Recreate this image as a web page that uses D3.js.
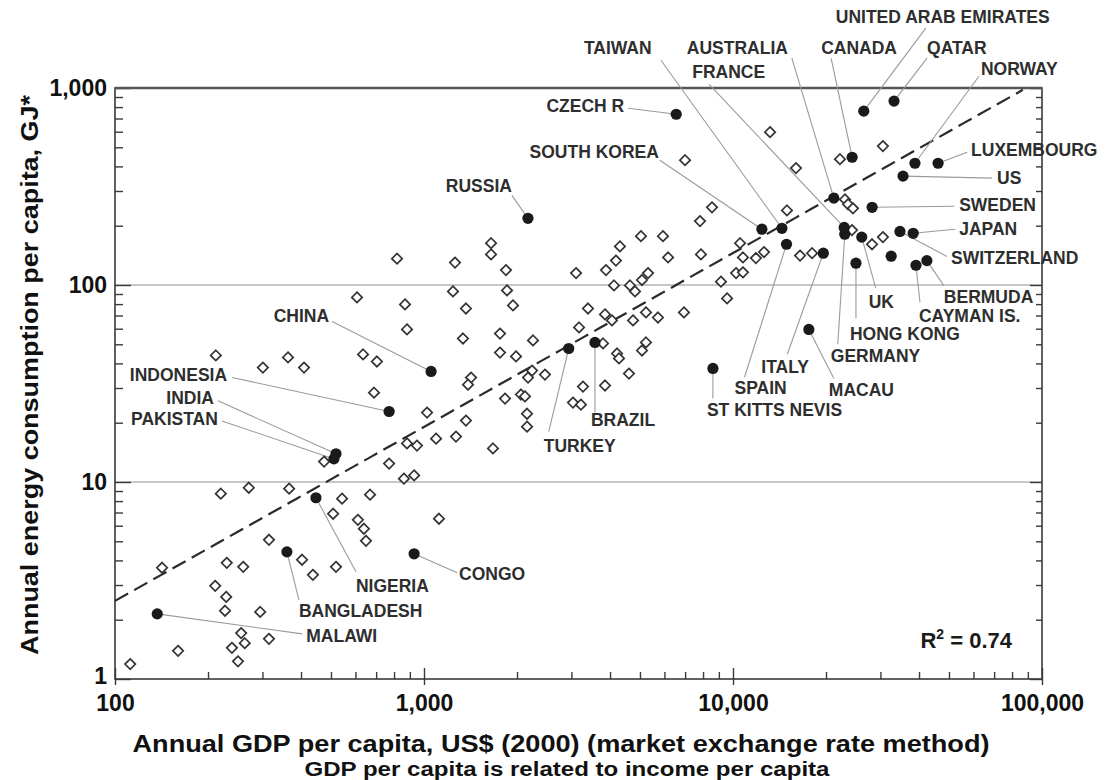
<!DOCTYPE html>
<html>
<head>
<meta charset="utf-8">
<script src="https://cdn.jsdelivr.net/npm/d3@7"></script>
<style>
  html, body { margin: 0; padding: 0; background: #fff; }
  svg { display: block; }
  text { font-family: "Liberation Sans", Arial, Helvetica, sans-serif; font-weight: bold; }
</style>
</head>
<body>
<svg id="chart" width="1116" height="780"></svg>
<script>
// ---------------- DATA ----------------
// Labeled (filled) countries: GDP per capita (US$ 2000) and energy (GJ per capita)
const filledNames = ["UNITED ARAB EMIRATES","QATAR","CANADA","NORWAY","LUXEMBOURG","US","SWEDEN","JAPAN","SWITZERLAND","BERMUDA","CAYMAN IS.","UK","HONG KONG","GERMANY","ITALY","SPAIN","ST KITTS NEVIS","MACAU","CZECH R","TAIWAN","AUSTRALIA","FRANCE","SOUTH KOREA","RUSSIA","CHINA","INDONESIA","INDIA","PAKISTAN","NIGERIA","BANGLADESH","MALAWI","CONGO","TURKEY","BRAZIL",""];
const filledGdp    = [26500,33200,24300,38800,46100,35500,28200,38300,34700,42400,39100,26100,25000,23000,19600,14900,8610,17600,6550,14400,21200,22900,12400,2170,1054,771,519,511,447,360,137,929,2940,3575,32500];
const filledEnergy = [763,858,445,415,415,357,248,183,187,133,126,175,129,181,145,161,37.7,59.5,736,194,276,196,192,218,36.4,22.8,13.9,13.1,8.32,4.42,2.14,4.32,47.6,51.1,140];

// Other (open diamond) countries
const openGdp = [607,212,301,363,409,635,475,220,271,366,543,508,611,639,649,315,142,230,260,403,437,519,211,229,227,295,256,263,239,250,315,160,112,669,1118,1023,1094,949,881,771,929,861,689,
  1648,1648,818,1260,1842,3105,3881,1241,1856,868,1367,1941,881,1337,1762,2253,1762,1985,3394,3853,3175,3796,704,1420,1388,2237,2171,2463,1829,2060,2122,3270,3853,3035,3220,1367,2155,2155,1269,1672,
  13180,6995,15990,8551,7820,14950,5036,5934,4306,4180,6165,7875,10540,10770,11860,12600,10230,10770,9141,9570,4120,4640,4818,5076,5309,4057,4748,5228,5717,6939,5228,5076,4215,4276,4606,
  30560,22190,23030,23570,24450,24270,28180,30560,16480,18030];
const openEnergy = [86.5,43.9,38.1,42.9,38.1,44.4,12.7,8.72,9.35,9.25,8.23,6.90,6.43,5.79,5.03,5.09,3.67,3.89,3.71,4.03,3.38,3.71,2.97,2.61,2.22,2.19,1.71,1.52,1.44,1.23,1.60,1.39,1.19,8.62,6.51,22.5,16.6,15.3,15.7,12.4,10.8,10.4,28.4,
  163,143,136,130,119,115,119,92.8,93.9,79.7,76.0,78.8,59.5,53.5,56.7,52.3,45.4,43.4,76.0,70.9,60.9,50.5,40.9,33.9,31.2,36.8,33.9,35.1,26.5,27.8,27.2,30.5,30.9,25.3,24.7,20.5,22.2,19.1,17.0,14.8,
  597,430,392,248,211,239,177,177,157,133,138,143,163,138,137,147,115,116,104,85.5,99.5,99.5,92.8,106,115,66.1,66.1,72.6,68.4,72.6,51.1,46.5,44.9,42.4,35.5,
  507,435,272,257,245,190,161,175,141,145];

// Axis tick labels
const xTickLabels = [100, 1000, 10000, 100000];
const yTickLabels = [1, 10, 100, 1000];
const gridValues = [10, 100];

// Power-law fit  E = a * GDP^b
const fitCoef = 0.0427;
const fitExp = 0.883;
const fitGdpRange = [100, 86700];
const rSquared = "0.74";

// ---------------- LAYOUT (label placement, px offsets from the point) ----------------
// name, anchor, text dx, text dy (baseline), leader end dx, leader end dy
const labelLayout = [
  ["UNITED ARAB EMIRATES","start",-28,-88,62,-83],
  ["QATAR","start",33,-47,33,-43],
  ["CANADA","start",-31,-103,-21,-99],
  ["NORWAY","start",66,-88,64,-87],
  ["LUXEMBOURG","start",33,-7,29,-11],
  ["US","start",94,8,89,2],
  ["SWEDEN","start",87,4,82,-1],
  ["JAPAN","start",46,2,42,-4],
  ["SWITZERLAND","start",51,33,47,25],
  ["BERMUDA","start",17,42,17,25],
  ["CAYMAN IS.","start",3,57,4,37],
  ["UK","start",7,71,14,51],
  ["HONG KONG","start",-6,77,0,55],
  ["GERMANY","start",-14,128,-7,110],
  ["ITALY","start",-62,120,-36,101],
  ["SPAIN","start",-52,150,-42,133],
  ["ST KITTS NEVIS","start",-6,48,0,30],
  ["MACAU","start",20,67,25,49],
  ["CZECH R","end",-52,-2,-48,-6],
  ["TAIWAN","start",-198,-174,-121,-168],
  ["AUSTRALIA","start",-147,-144,-42,-140],
  ["FRANCE","start",-152,-149,-135,-143],
  ["SOUTH KOREA","end",-103,-71,-102,-69],
  ["RUSSIA","end",-16,-26,-16,-23],
  ["CHINA","end",-102,-49,-99,-50],
  ["INDONESIA","end",-162,-30,-157,-34],
  ["INDIA","end",-122,-50,-118,-53],
  ["PAKISTAN","end",-116,-34,-112,-38],
  ["NIGERIA","start",40,94,40,74],
  ["BANGLADESH","start",12,65,12,48],
  ["MALAWI","start",149,28,145,20],
  ["CONGO","start",45,26,43,19],
  ["TURKEY","start",-25,103,-20,83],
  ["BRAZIL","start",-4,84,0,70]
];

// ---------------- DRAW ----------------
const svg = d3.select("#chart");
const L = 115, R = 1042, T = 88, B = 679;
const x = d3.scaleLog().domain([100, 100000]).range([L, R]);
const y = d3.scaleLog().domain([1, 1000]).range([B, T]);

svg.append("rect").attr("width", 1116).attr("height", 780).attr("fill", "#fff");

// grid lines
svg.append("g").selectAll("line").data(gridValues).join("line")
  .attr("x1", L).attr("x2", R)
  .attr("y1", d => y(d)).attr("y2", d => y(d))
  .attr("stroke", "#b4b4b4").attr("stroke-width", 1.3);

// minor / major tick values
const minorY = [], minorX = [];
for (let e = 0; e < 3; e++) for (let m = 2; m <= 9; m++) minorY.push(m * Math.pow(10, e));
for (let e = 2; e < 5; e++) for (let m = 2; m <= 9; m++) minorX.push(m * Math.pow(10, e));

function tickAxis(axis, vals, size, tx, ty) {
  const g = svg.append("g").attr("transform", `translate(${tx},${ty})`)
    .call(axis.tickValues(vals).tickSize(size).tickFormat(""));
  g.select(".domain").remove();
  g.selectAll(".tick line").attr("stroke", "#3a3a3a").attr("stroke-width", 1.4);
  return g;
}
tickAxis(d3.axisLeft(y), minorY, -8, L, 0);
tickAxis(d3.axisLeft(y), yTickLabels, -16, L, 0);
tickAxis(d3.axisRight(y), minorY, -6, R, 0);
tickAxis(d3.axisRight(y), yTickLabels, -12, R, 0);
tickAxis(d3.axisBottom(x), minorX, -7, 0, B);
tickAxis(d3.axisBottom(x), xTickLabels, -11, 0, B);
tickAxis(d3.axisBottom(x), xTickLabels, 6, 0, B);

// frame
svg.append("rect").attr("x", L).attr("y", T).attr("width", R - L).attr("height", B - T)
  .attr("fill", "none").attr("stroke", "#3a3a3a").attr("stroke-width", 1.6);
svg.append("line").attr("x1", L).attr("x2", R).attr("y1", T).attr("y2", T)
  .attr("stroke", "#555").attr("stroke-width", 2.6);

// tick labels
const yl = svg.append("g").attr("transform", `translate(${L},0)`)
  .call(d3.axisLeft(y).tickValues(yTickLabels).tickSize(0).tickPadding(8).tickFormat(d3.format(",")));
yl.select(".domain").remove();
yl.selectAll("text").attr("font-size", 23).attr("fill", "#111")
  .attr("font-family", "'Liberation Sans', Arial, sans-serif").attr("font-weight", "bold")
  .attr("dy", d => d === 1 ? "0.2em" : "0.32em");

const xl = svg.append("g").attr("transform", `translate(0,${B})`)
  .call(d3.axisBottom(x).tickValues(xTickLabels).tickSize(0).tickPadding(16).tickFormat(d3.format(",")));
xl.select(".domain").remove();
xl.selectAll("text").attr("font-size", 23).attr("fill", "#111")
  .attr("font-family", "'Liberation Sans', Arial, sans-serif").attr("font-weight", "bold");

// fit line
const fitPts = d3.range(0, 61).map(i => {
  const lg = Math.log10(fitGdpRange[0]) + i / 60 * (Math.log10(fitGdpRange[1]) - Math.log10(fitGdpRange[0]));
  const g = Math.pow(10, lg);
  return [g, fitCoef * Math.pow(g, fitExp)];
});
svg.append("path").datum(fitPts)
  .attr("d", d3.line().x(d => x(d[0])).y(d => y(d[1])))
  .attr("fill", "none").attr("stroke", "#2a2a2a").attr("stroke-width", 2.2)
  .attr("stroke-dasharray", "15,7");

// leader lines
const layoutMap = new Map(labelLayout.map(r => [r[0], r]));
const filled = filledNames.map((n, i) => ({ name: n, gdp: filledGdp[i], en: filledEnergy[i] }));
const labeled = filled.filter(d => layoutMap.has(d.name));

svg.append("g").selectAll("line").data(labeled).join("line")
  .attr("x1", d => x(d.gdp)).attr("y1", d => y(d.en))
  .attr("x2", d => x(d.gdp) + layoutMap.get(d.name)[4])
  .attr("y2", d => y(d.en) + layoutMap.get(d.name)[5])
  .attr("stroke", "#9a9a9a").attr("stroke-width", 1.1);

// open diamonds
const open = openGdp.map((g, i) => ({ gdp: g, en: openEnergy[i] }));
const r = 5.2;
svg.append("g").selectAll("path").data(open).join("path")
  .attr("d", `M0,${-r}L${r},0L0,${r}L${-r},0Z`)
  .attr("transform", d => `translate(${x(d.gdp)},${y(d.en)})`)
  .attr("fill", "#fff").attr("stroke", "#333").attr("stroke-width", 1.7);

// filled circles
svg.append("g").selectAll("circle").data(filled).join("circle")
  .attr("cx", d => x(d.gdp)).attr("cy", d => y(d.en)).attr("r", 5.6)
  .attr("fill", "#1a1a1a");

// labels
svg.append("g").selectAll("text").data(labeled).join("text")
  .attr("x", d => x(d.gdp) + layoutMap.get(d.name)[2])
  .attr("y", d => y(d.en) + layoutMap.get(d.name)[3])
  .attr("text-anchor", d => layoutMap.get(d.name)[1])
  .attr("font-size", 17.5).attr("fill", "#2e2e2e")
  .text(d => d.name);

// R squared
const rt = svg.append("text").attr("x", R - 30).attr("y", B - 31)
  .attr("text-anchor", "end").attr("font-size", 22).attr("fill", "#1a1a1a");
rt.append("tspan").text("R");
rt.append("tspan").attr("font-size", 14).attr("dy", -9).text("2");
rt.append("tspan").attr("dy", 9).text(" = " + rSquared);

// axis titles
svg.append("text").attr("x", 561).attr("y", 752).attr("text-anchor", "middle")
  .attr("font-size", 24).attr("fill", "#111")
  .attr("textLength", 857).attr("lengthAdjust", "spacingAndGlyphs")
  .text("Annual GDP per capita, US$ (2000)  (market exchange rate method)");
svg.append("text").attr("x", 567).attr("y", 776).attr("text-anchor", "middle")
  .attr("font-size", 20).attr("fill", "#111")
  .attr("textLength", 525).attr("lengthAdjust", "spacingAndGlyphs")
  .text("GDP per capita is related to income per capita");
svg.append("text").attr("transform", "translate(38,375) rotate(-90)")
  .attr("text-anchor", "middle").attr("font-size", 24).attr("fill", "#111")
  .attr("textLength", 560).attr("lengthAdjust", "spacingAndGlyphs")
  .text("Annual energy consumption per capita, GJ*");
</script>
</body>
</html>
